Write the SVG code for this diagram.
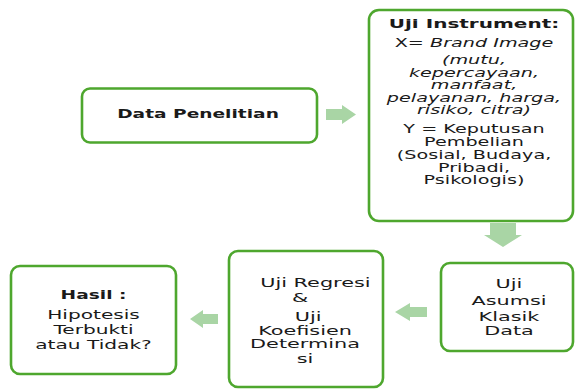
<svg xmlns="http://www.w3.org/2000/svg" width="576" height="392" viewBox="0 0 576 392">
<style>
.box{fill:#ffffff;stroke:#4ea72e;stroke-width:2.6}
.arr{fill:#a9d5a5}
text{font-family:"DejaVu Sans","Liberation Sans",sans-serif;fill:#1a1a1a;text-anchor:middle;font-size:11.5px}
.b{font-weight:bold;font-size:12px}
.i{font-style:italic}
.m{font-size:13px}
.h{font-size:13px}
</style>
<rect width="576" height="392" fill="#ffffff"/>
<g id="connectors">
<polygon class="arr" points="326,109 342,109 342,105 356,114.5 342,124 342,120 326,120"/>
<polygon class="arr" points="490,223 516,223 516,235 522,235 503,247 484,235 490,235"/>
<polygon class="arr" points="427,307 410,307 410,303 395,312 410,321 410,317 427,317"/>
<polygon class="arr" points="218,314 203,314 203,310 190,319 203,328 203,324 218,324"/>
</g>
<g id="n1">
<rect class="box" x="82" y="88.5" width="235" height="54" rx="8"/>
<g transform="translate(198 0) scale(1.55 1)"><text class="b" x="0" y="118.5">Data Penelitian</text></g>
</g>
<g id="n2">
<rect class="box" x="369" y="10" width="204" height="211" rx="10"/>
<g transform="translate(474 0) scale(1.67 1)">
<text class="b" x="0" y="28.5">Uji Instrument:</text>
<text x="0" y="47.5">X= <tspan class="i">Brand Image</tspan></text>
<text class="i" x="0" y="64">(mutu,</text>
<text class="i" x="0" y="77">kepercayaan,</text>
<text class="i" x="0" y="89.5">manfaat,</text>
<text class="i" x="0" y="101.8">pelayanan, harga,</text>
<text class="i" x="0" y="114">risiko, citra)</text>
<text x="0" y="132.7">Y = Keputusan</text>
<text x="0" y="146">Pembelian</text>
<text x="0" y="159.3">(Sosial, Budaya,</text>
<text x="0" y="171.7">Pribadi,</text>
<text x="0" y="184.3">Psikologis)</text>
</g>
</g>
<g id="n3">
<rect class="box" x="441" y="263" width="132" height="88" rx="9"/>
<g transform="translate(509 0) scale(1.6 1)">
<text class="m" x="0" y="288.5">Uji</text>
<text class="m" x="0" y="305">Asumsi</text>
<text class="m" x="0" y="320.7">Klasik</text>
<text class="m" x="0" y="335">Data</text>
</g>
</g>
<g id="n4">
<rect class="box" x="229" y="251" width="154" height="136" rx="9"/>
<g transform="translate(305 0) scale(1.6 1)">
<text class="m" x="6.5" y="286.7">Uji Regresi</text>
<text class="m" x="-3" y="301.7">&amp;</text>
<text class="m" x="2" y="321">Uji</text>
<text class="m" x="0" y="335">Koefisien</text>
<text class="m" x="0" y="348.3">Determina</text>
<text class="m" x="0" y="362.7">si</text>
</g>
</g>
<g id="n5">
<rect class="box" x="11" y="266" width="165" height="108" rx="9"/>
<g transform="translate(93.5 0) scale(1.55 1)">
<text class="b" x="0" y="299">Hasil :</text>
<text class="h" x="0" y="319">Hipotesis</text>
<text class="h" x="0" y="334">Terbukti</text>
<text class="h" x="0" y="349">atau Tidak?</text>
</g>
</g>
</svg>
